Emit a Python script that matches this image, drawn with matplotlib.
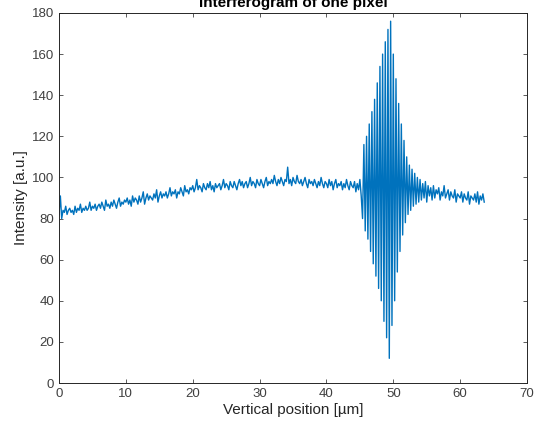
import numpy as np
import matplotlib
matplotlib.use("Agg")
import matplotlib.pyplot as plt

plt.rcParams['font.family'] = ['Liberation Sans', 'DejaVu Sans']

# intensity samples, one every 0.2 um
step_um = 0.2
intensity = [
    82, 91, 80, 84, 83, 86, 82, 84, 85, 83,
    84, 82, 86, 83, 85, 84, 87, 83, 85, 84,
    86, 84, 85, 88, 84, 86, 85, 87, 84, 86,
    87, 85, 88, 86, 84, 89, 86, 87, 85, 88,
    86, 89, 87, 85, 88, 90, 86, 88, 87, 89,
    88, 90, 87, 89, 86, 91, 88, 90, 89, 87,
    91, 88, 90, 93, 87, 90, 92, 89, 91, 90,
    89, 92, 90, 94, 88, 91, 93, 90, 92, 91,
    93, 90, 92, 95, 91, 93, 92, 94, 90, 93,
    92, 95, 93, 91, 96, 93, 94, 92, 95, 94,
    96, 93, 95, 99, 94, 96, 95, 93, 97, 95,
    94, 97, 95, 98, 94, 96, 93, 97, 95, 96,
    97, 94, 96, 99, 95, 97, 96, 94, 98, 96,
    95, 98, 96, 94, 97, 99, 96, 98, 95, 97,
    98, 95, 97, 100, 96, 98, 97, 95, 99, 97,
    96, 99, 97, 95, 98, 100, 96, 98, 97, 99,
    97, 101, 98, 96, 99, 97, 100, 98, 96, 99,
    98, 105, 97, 99, 96, 100, 98, 97, 101, 98,
    97, 99, 96, 98, 100, 97, 95, 99, 97, 98,
    96, 99, 97, 95, 98, 96, 100, 97, 95, 98,
    97, 95, 99, 96, 98, 94, 97, 99, 95, 97,
    96, 98, 94, 97, 95, 99, 96, 94, 98, 96,
    95, 98, 93, 97, 94, 99, 91, 80, 116, 74,
    120, 70, 126, 64, 132, 58, 138, 52, 146, 46,
    154, 40, 160, 30, 166, 22, 172, 12, 176, 28,
    160, 40, 148, 54, 136, 64, 126, 72, 118, 78,
    110, 82, 106, 84, 104, 86, 102, 87, 100, 88,
    99, 89, 97, 90, 98, 88, 96, 91, 95, 89,
    96, 90, 94, 92, 95, 89, 93, 91, 96, 90,
    92, 94, 89, 93, 91, 90, 94, 88, 92, 91,
    90, 93, 88, 92, 90, 89, 93, 87, 91, 90,
    89, 92, 88, 93, 87, 91, 89, 92, 88,
]
position = np.arange(len(intensity)) * step_um

fig = plt.figure(figsize=(5.38, 4.3), dpi=100)
ax = fig.add_axes([0.1097, 0.1093, 0.8699, 0.8605])

ax.plot(position, intensity, color='#0072BD', linewidth=1.0)

ax.set_xlim(0, 70)
ax.set_ylim(0, 180)
ax.set_xticks(range(0, 71, 10))
ax.set_yticks(range(0, 181, 20))
ax.tick_params(direction='in', length=3, width=0.6, colors='#404040',
               labelsize=9.5, top=True, right=True, labeltop=False, labelright=False)
for s in ax.spines.values():
    s.set_color('#262626')
    s.set_linewidth(0.7)

ax.set_xlabel('Vertical position [µm]', fontsize=11, color='#262626', labelpad=2)
ax.set_ylabel('Intensity [a.u.]', fontsize=11, color='#262626', labelpad=3)
ax.set_title('Interferogram of one pixel', fontsize=11, fontweight='bold', pad=4)

fig.savefig('out.png', dpi=100)
